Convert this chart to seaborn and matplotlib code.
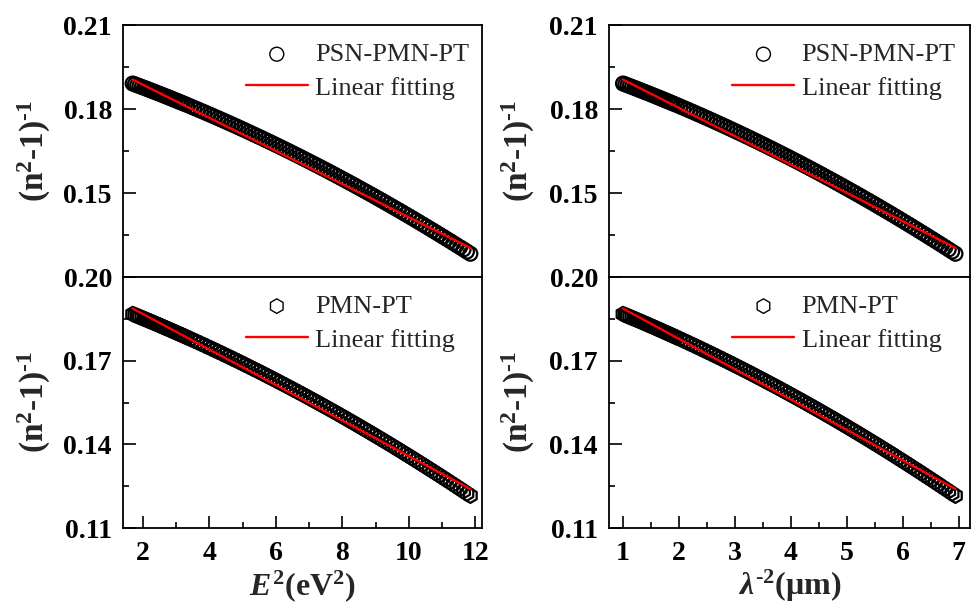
import numpy as np
import pandas as pd
import matplotlib
matplotlib.use("Agg")
import matplotlib.pyplot as plt
import seaborn as sns
from matplotlib.ticker import FixedLocator

# ---------------- data ----------------
# lambda^-2 (um^-2) positions of the measured points
lam_inv2 = [1.00, 1.04, 1.08, 1.12, 1.16, 1.20, 1.24, 1.28, 1.32, 1.36, 1.40, 1.44, 1.48,
            1.52, 1.56, 1.60, 1.64, 1.68, 1.72, 1.76, 1.80, 1.84, 1.88, 1.92, 1.96,
            2.02, 2.08, 2.14, 2.20, 2.26, 2.32, 2.38, 2.44, 2.50, 2.56, 2.62, 2.68, 2.74,
            2.80, 2.86, 2.92, 2.98, 3.04, 3.10, 3.16, 3.22, 3.28, 3.34, 3.40, 3.46, 3.52,
            3.58, 3.64, 3.70, 3.76, 3.82, 3.88, 3.94, 4.00, 4.06, 4.12, 4.18, 4.24, 4.30,
            4.36, 4.42, 4.48, 4.54, 4.60, 4.66, 4.72, 4.78, 4.84, 4.90, 4.96, 5.02, 5.08,
            5.14, 5.20, 5.26, 5.32, 5.38, 5.44, 5.50, 5.56, 5.62, 5.68, 5.74, 5.80, 5.86,
            5.92, 5.98, 6.04, 6.10, 6.16, 6.22, 6.28, 6.34, 6.40, 6.46, 6.52, 6.58, 6.64,
            6.70, 6.76, 6.82, 6.88, 6.94]

# E^2 (eV^2) positions of the same points
e_sq = [1.690, 1.758, 1.827, 1.895, 1.964, 2.032, 2.100, 2.169, 2.237, 2.306, 2.374, 2.443, 2.511,
        2.579, 2.648, 2.716, 2.785, 2.853, 2.921, 2.990, 3.058, 3.127, 3.195, 3.264, 3.332,
        3.435, 3.537, 3.640, 3.742, 3.845, 3.948, 4.050, 4.153, 4.256, 4.358, 4.461, 4.563, 4.666,
        4.769, 4.871, 4.974, 5.077, 5.179, 5.282, 5.384, 5.487, 5.590, 5.692, 5.795, 5.898, 6.000,
        6.103, 6.205, 6.308, 6.411, 6.513, 6.616, 6.719, 6.821, 6.924, 7.026, 7.129, 7.232, 7.334,
        7.437, 7.540, 7.642, 7.745, 7.847, 7.950, 8.053, 8.155, 8.258, 8.361, 8.463, 8.566, 8.668,
        8.771, 8.874, 8.976, 9.079, 9.182, 9.284, 9.387, 9.489, 9.592, 9.695, 9.797, 9.900, 10.003,
        10.105, 10.208, 10.310, 10.413, 10.516, 10.618, 10.721, 10.824, 10.926, 11.029, 11.131, 11.234, 11.337,
        11.439, 11.542, 11.645, 11.747, 11.850]

# (n^2-1)^-1 for PSN-PMN-PT
y_psn = [0.18910, 0.18880, 0.18849, 0.18819, 0.18788, 0.18757, 0.18726, 0.18695, 0.18663, 0.18632,
         0.18600, 0.18569, 0.18537, 0.18505, 0.18472, 0.18440, 0.18408, 0.18375, 0.18342, 0.18309,
         0.18276, 0.18243, 0.18210, 0.18176, 0.18143,
         0.18092, 0.18041, 0.17989, 0.17938, 0.17886, 0.17833, 0.17781, 0.17728, 0.17674, 0.17621,
         0.17567, 0.17512, 0.17458, 0.17403, 0.17348, 0.17292, 0.17236, 0.17180, 0.17123, 0.17066,
         0.17009, 0.16952, 0.16894, 0.16836, 0.16777, 0.16718, 0.16659, 0.16600, 0.16540, 0.16480,
         0.16419, 0.16359, 0.16298, 0.16236, 0.16174, 0.16112, 0.16050, 0.15987, 0.15924, 0.15861,
         0.15797, 0.15733, 0.15669, 0.15604, 0.15539, 0.15474, 0.15408, 0.15342, 0.15276, 0.15209,
         0.15142, 0.15075, 0.15008, 0.14940, 0.14872, 0.14803, 0.14734, 0.14665, 0.14595, 0.14526,
         0.14455, 0.14385, 0.14314, 0.14243, 0.14172, 0.14100, 0.14028, 0.13955, 0.13882, 0.13809,
         0.13736, 0.13662, 0.13588, 0.13514, 0.13439, 0.13364, 0.13289, 0.13213, 0.13137, 0.13061,
         0.12984, 0.12907, 0.12830]

# (n^2-1)^-1 for PMN-PT
y_pmn = [0.18670, 0.18637, 0.18603, 0.18570, 0.18536, 0.18502, 0.18469, 0.18434, 0.18400, 0.18366,
         0.18331, 0.18297, 0.18262, 0.18227, 0.18192, 0.18157, 0.18121, 0.18086, 0.18050, 0.18014,
         0.17978, 0.17942, 0.17906, 0.17870, 0.17833,
         0.17778, 0.17723, 0.17667, 0.17611, 0.17554, 0.17498, 0.17441, 0.17383, 0.17326, 0.17268,
         0.17209, 0.17151, 0.17092, 0.17033, 0.16973, 0.16913, 0.16853, 0.16792, 0.16731, 0.16670,
         0.16609, 0.16547, 0.16484, 0.16422, 0.16359, 0.16296, 0.16232, 0.16169, 0.16104, 0.16040,
         0.15975, 0.15910, 0.15845, 0.15779, 0.15713, 0.15646, 0.15580, 0.15513, 0.15445, 0.15378,
         0.15310, 0.15241, 0.15173, 0.15104, 0.15034, 0.14965, 0.14895, 0.14824, 0.14754, 0.14683,
         0.14611, 0.14540, 0.14468, 0.14396, 0.14323, 0.14250, 0.14177, 0.14103, 0.14030, 0.13956,
         0.13881, 0.13806, 0.13731, 0.13656, 0.13580, 0.13504, 0.13427, 0.13350, 0.13273, 0.13196,
         0.13118, 0.13040, 0.12962, 0.12883, 0.12804, 0.12725, 0.12645, 0.12565, 0.12484, 0.12404,
         0.12323, 0.12241, 0.12160]

# linear fitting end points
fit_lam = [1.00, 6.94]
fit_e = [1.69, 11.85]
fit_psn = [0.1905, 0.1304]
fit_pmn = [0.1887, 0.1240]

label_psn = "PSN-PMN-PT"
label_pmn = "PMN-PT"
label_fit = "Linear fitting"

# ---------------- style ----------------
sns.set_style("ticks")
plt.rcParams["font.family"] = ["Liberation Serif", "DejaVu Serif"]
plt.rcParams["mathtext.fontset"] = "custom"
plt.rcParams["mathtext.rm"] = "Liberation Serif:bold"
plt.rcParams["mathtext.bf"] = "Liberation Serif:bold"
plt.rcParams["mathtext.it"] = "Liberation Serif:italic:bold"
plt.rcParams["mathtext.default"] = "rm"

W, H = 971, 606
fig = plt.figure(figsize=(W / 100, H / 100), dpi=100)
fig.patch.set_facecolor("white")


def px_axes(x0, y0, x1, y1):
    return fig.add_axes([x0 / W, 1 - y1 / H, (x1 - x0) / W, (y1 - y0) / H])


ax_tl = px_axes(123, 25, 482, 277)
ax_bl = px_axes(123, 277, 482, 528)
ax_tr = px_axes(609, 25, 970, 277)
ax_br = px_axes(609, 277, 970, 528)

df_psn_e = pd.DataFrame({"x": e_sq, "y": y_psn})
df_pmn_e = pd.DataFrame({"x": e_sq, "y": y_pmn})
df_psn_l = pd.DataFrame({"x": lam_inv2, "y": y_psn})
df_pmn_l = pd.DataFrame({"x": lam_inv2, "y": y_pmn})

panels = [
    (ax_tl, df_psn_e, fit_e, fit_psn, "o", label_psn, True),
    (ax_bl, df_pmn_e, fit_e, fit_pmn, "h", label_pmn, False),
    (ax_tr, df_psn_l, fit_lam, fit_psn, "o", label_psn, True),
    (ax_br, df_pmn_l, fit_lam, fit_pmn, "h", label_pmn, False),
]

tick_font = dict(fontsize=20, fontweight="bold")
ylabel_txt = "(n$^{2}$-1)$^{\u2010 1}$"

for ax, df, fx, fy, mk, lab, is_top in panels:
    sns.scatterplot(data=df, x="x", y="y", ax=ax, marker=mk, s=100 if mk == "o" else 110,
                    facecolor="none", edgecolor="black", linewidth=1.6, label=lab, zorder=2)
    sns.lineplot(x=fx, y=fy, ax=ax, color="#ff0000", linewidth=1.7, label=label_fit,
                 zorder=3)
    for sp in ax.spines.values():
        sp.set_linewidth(1.3)
        sp.set_color("black")
    ax.set_facecolor("white")
    ax.tick_params(axis="both", which="both", direction="in", width=1.2, colors="black")
    ax.tick_params(axis="both", which="major", length=9)
    ax.tick_params(axis="both", which="minor", length=4.5)
    ax.tick_params(axis="y", which="major", pad=8)
    ax.tick_params(axis="x", which="major", pad=9)
    if is_top:
        ax.set_ylim(0.12, 0.21)
        ax.yaxis.set_major_locator(FixedLocator([0.15, 0.18, 0.21]))
        ax.yaxis.set_minor_locator(FixedLocator([0.135, 0.165, 0.195]))
        ax.tick_params(axis="x", which="both", bottom=False, labelbottom=False)
    else:
        ax.set_ylim(0.11, 0.20)
        ax.yaxis.set_major_locator(FixedLocator([0.11, 0.14, 0.17, 0.20]))
        ax.yaxis.set_minor_locator(FixedLocator([0.125, 0.155, 0.185]))
    ax.set_yticklabels([f"{v:.2f}" for v in ax.get_yticks()], **tick_font)
    ax.set_ylabel(ylabel_txt, fontsize=24, fontweight="bold")
    ax.set_xlabel("")
    # legend
    h, l = ax.get_legend_handles_labels()
    leg = ax.legend(h, l, loc="upper left", bbox_to_anchor=(0.342, 0.93), frameon=False,
                    fontsize=19, handlelength=2.35, handletextpad=0.27, borderpad=0,
                    borderaxespad=0, labelspacing=0.38, markerscale=1.0)
    leg.legend_handles[0].set_linewidth(1.0)

for ax in (ax_tl, ax_bl):
    ax.set_xlim(1.4, 12.2)
for ax in (ax_tr, ax_br):
    ax.set_xlim(0.75, 7.2)

ax_bl.xaxis.set_major_locator(FixedLocator([2, 4, 6, 8, 10, 12]))
ax_bl.xaxis.set_minor_locator(FixedLocator([3, 5, 7, 9, 11]))
ax_bl.set_xticklabels(["2", "4", "6", "8", "10", "12"], **tick_font)
ax_br.xaxis.set_major_locator(FixedLocator([1, 2, 3, 4, 5, 6, 7]))
ax_br.xaxis.set_minor_locator(FixedLocator([1.5, 2.5, 3.5, 4.5, 5.5, 6.5]))
ax_br.set_xticklabels(["1", "2", "3", "4", "5", "6", "7"], **tick_font)
for ax in (ax_tl, ax_tr):
    ax.xaxis.set_major_locator(FixedLocator([]))
    ax.xaxis.set_minor_locator(FixedLocator([]))

ax_bl.set_xlabel(r"$\mathit{E}^{2}$(eV$^{2}$)", fontsize=23, fontweight="bold", labelpad=2)
ax_br.set_xlabel("$\\mathit{λ}^{\u2010 2}$(μm)", fontsize=23, fontweight="bold", labelpad=2)

for ax in (ax_tl, ax_bl):
    ax.yaxis.set_label_coords(-0.195, 0.5)
for ax in (ax_tr, ax_br):
    ax.yaxis.set_label_coords(-0.2, 0.5)

fig.savefig("out.png", dpi=100, facecolor="white")
